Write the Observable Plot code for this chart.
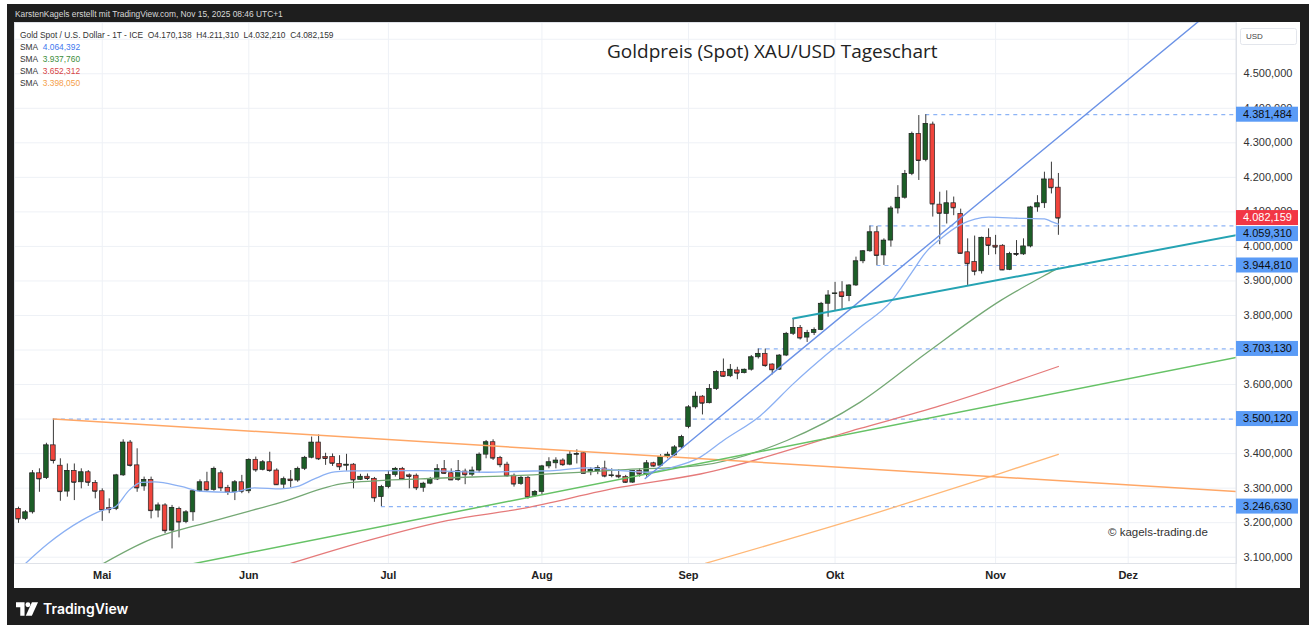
<!DOCTYPE html>
<html><head><meta charset="utf-8">
<script src="https://cdn.jsdelivr.net/npm/d3@7"></script>
<script src="https://cdn.jsdelivr.net/npm/@observablehq/plot@0.6"></script>
<style>
body{margin:0;background:#fff;}
#root{position:relative;width:1309px;height:625px;overflow:hidden;font-family:"Liberation Sans",Arial,sans-serif;}
#dark{position:absolute;left:7px;top:4px;right:0;bottom:0;background:#1e1e1e;}
#panel{position:absolute;left:14px;top:22px;width:1286px;height:566px;background:#fff;}
#panel svg{display:block;}
.abs{position:absolute;white-space:nowrap;}
#topline{left:15px;top:9px;font-size:8.4px;color:#d8d8d8;}
#legend{left:20px;top:29px;font-size:8.4px;color:#333;line-height:12px;}
#title{left:607px;top:38px;font-family:"Open Sans",sans-serif;font-size:19px;color:#222;}
#copy{left:1108px;top:526px;font-size:11.5px;color:#333;}
#brand{left:16px;top:600px;color:#fff;font-family:Inter,"Open Sans",sans-serif;font-size:14px;font-weight:600;display:flex;align-items:center;gap:5px;}
</style></head>
<body>
<div id="root">
  <div id="dark"></div>
  <div class="abs" id="topline">KarstenKagels erstellt mit TradingView.com, Nov 15, 2025 08:46 UTC+1</div>
  <div id="panel"></div>
  <div class="abs" id="legend"></div>
  <div class="abs" id="title">Goldpreis (Spot) XAU/USD Tageschart</div>
  <div class="abs" id="copy">© kagels-trading.de</div>
  <div class="abs" id="brand"><svg width="22" height="14" viewBox="0 0 36 22"><path d="M0 0H14V22H7V8H0Z" fill="#fff"/><circle cx="19.5" cy="4" r="4" fill="#fff"/><path d="M26 0H36L26 22H16Z" fill="#fff"/></svg><span>TradingView</span></div>
</div>
<script>
// ---------- data ----------
const dates = ["04-14","04-15","04-16","04-17","04-21","04-22","04-23","04-24","04-25","04-28","04-29","04-30",
"05-01","05-02","05-05","05-06","05-07","05-08","05-09","05-12","05-13","05-14","05-15","05-16","05-19","05-20","05-21","05-22","05-23","05-27","05-28","05-29","05-30",
"06-02","06-03","06-04","06-05","06-06","06-09","06-10","06-11","06-12","06-13","06-16","06-17","06-18","06-20","06-23","06-24","06-25","06-26","06-27","06-30",
"07-01","07-02","07-03","07-07","07-08","07-09","07-10","07-11","07-14","07-15","07-16","07-17","07-18","07-21","07-22","07-23","07-24","07-25","07-28","07-29","07-30","07-31",
"08-01","08-04","08-05","08-06","08-07","08-08","08-11","08-12","08-13","08-14","08-15","08-18","08-19","08-20","08-21","08-22","08-25","08-26","08-27","08-28","08-29",
"09-02","09-03","09-04","09-05","09-08","09-09","09-10","09-11","09-12","09-15","09-16","09-17","09-18","09-19","09-22","09-23","09-24","09-25","09-26","09-29","09-30",
"10-01","10-02","10-03","10-06","10-07","10-08","10-09","10-10","10-13","10-14","10-15","10-16","10-17","10-20","10-21","10-22","10-23","10-24","10-27","10-28","10-29","10-30","10-31",
"11-03","11-04","11-05","11-06","11-07","11-10","11-11","11-12","11-13","11-14"];
// empty future trading days up to the "Dez" mark
const futureDates = ["11-17","11-18","11-19","11-20","11-21","11-24","11-25","11-26","11-28","12-01"];

const opens = [3240,3211,3230,3343,3329,3424,3365,3290,3350,3317,3346,3315,
3291,3242,3240,3337,3432,3366,3305,3324,3235,3250,3177,3240,3202,3230,3291,3317,3295,3343,3301,3288,3317,
3291,3382,3353,3375,3351,3310,3325,3322,3356,3388,3432,3390,3390,3370,3365,3368,3324,3333,3327,3274,
3303,3338,3356,3337,3336,3301,3313,3325,3355,3343,3324,3348,3339,3351,3397,3433,3387,3368,3336,3312,3330,3278,
3289,3363,3372,3380,3368,3397,3401,3346,3348,3357,3335,3336,3332,3316,3350,3338,3372,3365,3390,3395,3418,
3477,3534,3565,3546,3587,3636,3624,3641,3633,3643,3679,3689,3658,3643,3684,3747,3764,3736,3749,3758,3834,
3862,3867,3856,3887,3957,3986,4041,3974,4017,4110,4141,4210,4326,4250,4353,4121,4094,4125,4094,3983,3955,3928,4025,
4002,4002,3932,3978,3977,4000,4113,4125,4194,4170.138];
const highs = [3245,3235,3351,3356,3430,3500,3385,3370,3370,3356,3351,3322,
3298,3269,3340,3440,3438,3414,3332,3332,3257,3255,3250,3245,3235,3295,3324,3346,3361,3350,3308,3322,3337,
3385,3390,3380,3404,3356,3332,3351,3361,3392,3448,3454,3401,3399,3394,3398,3371,3340,3341,3331,3308,
3350,3360,3360,3341,3341,3317,3331,3368,3380,3356,3380,3355,3361,3402,3438,3440,3392,3375,3341,3334,3334,3293,
3366,3388,3388,3385,3407,3411,3404,3359,3365,3378,3356,3353,3337,3351,3356,3380,3375,3397,3404,3423,3453,
3539,3578,3568,3600,3640,3674,3658,3650,3645,3684,3703,3703,3660,3687,3751,3791,3771,3757,3764,3838,3872,
3896,3898,3889,3969,3988,4059,4058,4022,4116,4176,4220,4331,4379,4381.484,4360,4157,4161,4143,4108,4022,4030,4027,4051,
4032,4005,3983,4017,4022,4116,4147,4215,4244,4211.31];
const lows = [3198,3206,3225,3288,3325,3370,3262,3274,3264,3298,3305,3269,
3204,3226,3235,3334,3361,3288,3291,3211,3214,3168,3124,3156,3197,3204,3288,3291,3291,3290,3279,3264,3284,
3284,3346,3350,3346,3308,3298,3301,3317,3351,3385,3380,3366,3363,3351,3349,3298,3322,3322,3259,3246.63,
3298,3332,3322,3298,3293,3288,3310,3322,3340,3322,3320,3310,3333,3343,3385,3380,3359,3332,3303,3308,3268,3273,
3281,3356,3356,3363,3365,3370,3341,3336,3339,3330,3330,3327,3314,3314,3332,3332,3361,3362,3385,3392,3414,
3472,3529,3512,3544,3583,3621,3620,3614,3631,3639,3674,3650,3628,3641,3681,3742,3729,3722,3742,3756,3795,
3814,3818,3840,3884,3950,3983,3944.81,3945,3998,4094,4137,4205,4191,4245,4085,4005,4065,4089,3978,3887,3915,3920,3974,
3976,3930,3930,3971,3974,3996,4099,4110,4152,4032.21];
const closes = [3211,3230,3343,3327,3424,3380,3290,3350,3317,3346,3317,3291,
3237,3238,3337,3432,3366,3301,3324,3235,3250,3177,3243,3202,3230,3291,3317,3295,3356,3301,3288,3317,3291,
3382,3353,3375,3351,3310,3326,3322,3356,3388,3432,3385,3386,3372,3362,3368,3324,3333,3328,3272,3303,
3338,3356,3326,3334,3301,3313,3325,3355,3343,3324,3349,3339,3351,3397,3433,3387,3368,3336,3312,3330,3274,3289,
3363,3375,3380,3368,3397,3399,3343,3353,3358,3335,3337,3333,3317,3350,3341,3372,3364,3390,3397,3418,3448,
3534,3565,3546,3587,3636,3624,3643,3633,3643,3679,3689,3655,3643,3684,3747,3764,3735,3749,3758,3834,3858,
3864,3855,3887,3957,3986,4041,3974,4017,4110,4141,4210,4326,4249,4355,4123,4096,4125,4112,3980,3950,3928,4025,4003,
3998,3932,3978,3977,4000,4113,4125,4194,4170,4082.159];

// moving averages: [bar index, value]
const sma20 = [[1,3082],[4.2,3139],[9,3206],[11.9,3235],[13.8,3245],[15.9,3295],[17.6,3317],[19.5,3318],[23.3,3305],[26.2,3291],[30.5,3288],[33.8,3301],[37.6,3298],[40,3305],[42.4,3327],[45.3,3347],[48,3350],[57.6,3351],[67.2,3346],[71.9,3349],[76.7,3351],[81.5,3359],[86.3,3351],[90.1,3346],[93.4,3359],[97.7,3390],[101,3438],[106.3,3510],[111,3602],[115.9,3689],[120.6,3766],[125,3840],[128,3925],[130,3983],[132,4020],[135,4063],[139,4085],[144,4081],[147,4080],[148,4072],[149,4064.392]];
const sma50 = [[12,3080],[18.5,3148],[28.1,3206],[37.6,3259],[46.7,3314],[57.6,3327],[71.9,3337],[86.3,3353],[97.7,3366],[110.1,3438],[120.6,3549],[130,3690],[140.7,3843],[148.3,3930],[149,3937.76]];
const sma100 = [[39,3082],[50,3148],[61.4,3206],[71.9,3240],[86.3,3303],[97.7,3341],[120.6,3473],[132.1,3539],[149,3652.312]];
const sma200 = [[98.4,3082],[123.5,3232],[140.7,3343],[149,3398.05]];

// hand-drawn trend lines: [bar index, value]
const blueTrend = [[89.8,3328],[170,4667]];
const tealTrend = [[111,3791],[174.6,4033]];
const greenTrend = [[20,3061],[174.6,3679]];
const orangeTrend = [[5,3500.12],[174.6,3290]];

// horizontal levels (dashed) with start bar index
const levelValues = [4381.484, 4059.31, 3944.81, 3703.13, 3500.12, 3246.63];
const levelStarts = [130, 122, 123, 106, 5, 52];

const lastPrice = 4082.159;
const monthLabels = ["Mai","Jun","Jul","Aug","Sep","Okt","Nov","Dez"];
const monthStarts = ["05-01","06-02","07-01","08-01","09-02","10-01","11-03","12-01"];
// 3.500,000 and 3.700,000 are fully hidden behind level tags in the reference
const yTicks = [3100,3200,3300,3400,3600,3800,3900,4000,4100,4200,4300,4400,4500];
const yGrid = [3100,3200,3300,3400,3500,3600,3700,3800,3900,4000,4100,4200,4300,4400,4500,4600];

const legendItems = [
  {name:"SMA", value:4064.392, color:"#3f78ee"},
  {name:"SMA", value:3937.760, color:"#3d8d3d"},
  {name:"SMA", value:3652.312, color:"#d64545"},
  {name:"SMA", value:3398.050, color:"#f5a04a"}
];
const header = {symbol:"Gold Spot / U.S. Dollar - 1T - ICE", o:4170.138, h:4211.310, l:4032.210, c:4082.159};

// ---------- build ----------
const de = d3.formatLocale({decimal:",", thousands:".", grouping:[3], currency:["",""]});
const fmt = de.format(",.3f");

const allDates = dates.concat(futureDates);
const bars = dates.map((d,i)=>({i, date:d, o:opens[i], h:highs[i], l:lows[i], c:closes[i]}));
const monthIdx = monthStarts.map(m => allDates.indexOf(m));
const labelOf = new Map(monthIdx.map((x,k)=>[x, monthLabels[k]]));
const pts = a => a.map(([i,v])=>({i,v}));

const xMin = -0.573, xMax = 174.52;
const yMin = 3081.8, yMax = 4648.5;
const GREEN = "#1c5e27", RED = "#f0443c";
const hw = 0.33;

const chart = Plot.plot({
  width: 1286, height: 566,
  marginLeft: 0, marginRight: 64, marginTop: 0, marginBottom: 25,
  x: {type:"linear", domain:[xMin, xMax], axis:null},
  y: {type:"linear", domain:[yMin, yMax], axis:null},
  style: {fontFamily:'"Liberation Sans", Arial, sans-serif', background:"#fff", overflow:"visible"},
  marks: [
    Plot.gridY(yGrid, {stroke:"#eef1f6", strokeOpacity:1}),
    Plot.gridX(monthIdx, {stroke:"#eef1f6", strokeOpacity:1}),
    Plot.frame({stroke:"#dfe2e8"}),
    Plot.axisY(yTicks, {anchor:"right", tickSize:0, tickPadding:7, tickFormat:fmt, fontSize:11, fill:"#333", label:null}),
    Plot.axisX(monthIdx, {anchor:"bottom", tickSize:0, tickPadding:8, tickFormat:d=>labelOf.get(d), fontSize:11, fill:"#222", fontWeight:"bold", label:null}),
    // dashed levels
    Plot.ruleY(levelValues.map((v,k)=>({v, s:levelStarts[k]})), {y:"v", x1:"s", x2:()=>xMax, stroke:"#8db4f6", strokeWidth:1.2, strokeDasharray:"4,4", clip:true}),
    // candles
    Plot.ruleX(bars, {x:"i", y1:"l", y2:"h", stroke:"#3a3a3a", strokeWidth:1}),
    Plot.ruleY(bars, {y:"c", x1:d=>d.i-hw, x2:d=>d.i+hw, stroke:"#2a2a2a", strokeWidth:1}),
    Plot.rect(bars, {x1:d=>d.i-hw, x2:d=>d.i+hw, y1:d=>Math.min(d.o,d.c), y2:d=>Math.max(d.o,d.c), fill:d=>d.c>=d.o?GREEN:RED, stroke:"#262626", strokeWidth:0.7}),
    // moving averages
    Plot.line(pts(sma200), {x:"i", y:"v", stroke:"#ffb877", strokeWidth:1.3, curve:"monotone-x", clip:true}),
    Plot.line(pts(sma100), {x:"i", y:"v", stroke:"#e57a7a", strokeWidth:1.3, curve:"monotone-x", clip:true}),
    Plot.line(pts(sma50), {x:"i", y:"v", stroke:"#74a874", strokeWidth:1.3, curve:"monotone-x", clip:true}),
    Plot.line(pts(sma20), {x:"i", y:"v", stroke:"#8bb0f3", strokeWidth:1.3, curve:"monotone-x", clip:true}),
    // trend lines
    Plot.line(pts(orangeTrend), {x:"i", y:"v", stroke:"#ffa766", strokeWidth:1.5, clip:true}),
    Plot.line(pts(greenTrend), {x:"i", y:"v", stroke:"#66c266", strokeWidth:1.5, clip:true}),
    Plot.line(pts(blueTrend), {x:"i", y:"v", stroke:"#6b92e6", strokeWidth:1.4, clip:true}),
    Plot.line(pts(tealTrend), {x:"i", y:"v", stroke:"#25a3b3", strokeWidth:2, clip:true})
  ]
});
document.getElementById("panel").appendChild(chart);

// price-axis tags placed through the plot's own y scale
const ys = chart.scale("y");
const svg = d3.select(chart);
const axisX0 = 1222;
svg.append("line").attr("x1",axisX0).attr("x2",axisX0).attr("y1",0).attr("y2",566).attr("stroke","#dfe2e8");
const tags = levelValues.map(v=>({v, bg:"#5a9bf6", fg:"#0d0d0d"}));
tags.push({v:lastPrice, bg:"#f23645", fg:"#fff"});
tags.forEach(t=>t.y = ys.apply(t.v));
tags.sort((a,b)=>a.y-b.y);
const H = 15;
for (let k=1;k<tags.length;k++){ if (tags[k].y < tags[k-1].y + H + 1) tags[k].y = tags[k-1].y + H + 1; }
const tagG = svg.append("g").attr("text-anchor","start");
tags.forEach(t=>{
  tagG.append("rect").attr("x",axisX0).attr("y",t.y-H/2).attr("width",62).attr("height",H).attr("fill",t.bg);
  tagG.append("text").attr("x",axisX0+7).attr("y",t.y).attr("dy","0.35em").attr("font-size",11).attr("fill",t.fg).text(fmt(t.v));
});
// USD box
tagG.append("rect").attr("x",1226.5).attr("y",6.5).attr("width",56).attr("height",16).attr("rx",2).attr("fill","#fff").attr("stroke","#e3e6ec");
tagG.append("text").attr("x",1232).attr("y",14.5).attr("dy","0.35em").attr("font-size",8).attr("fill","#444").text("USD");

// legend text
const f = v => fmt(v);
const lg = document.getElementById("legend");
lg.innerHTML = `<div>${header.symbol}&nbsp; O${f(header.o)}&nbsp; H${f(header.h)}&nbsp; L${f(header.l)}&nbsp; C${f(header.c)}</div>` +
  legendItems.map(s=>`<div>${s.name}&nbsp; <span style="color:${s.color}">${f(s.value)}</span></div>`).join("");
</script>
</body></html>
